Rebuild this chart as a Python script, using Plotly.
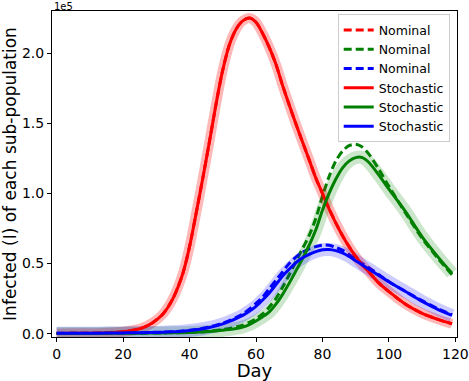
import plotly.graph_objects as go

# values, in units of 1e5 people
days = [0, 5, 10, 15, 20, 23, 26, 29, 32, 35, 38, 40, 42, 44, 46, 48, 50, 52, 54, 56, 58,
        60, 62, 64, 66, 68, 70, 73, 76, 78, 80, 82, 84, 86, 88, 90, 92, 94, 97, 100,
        105, 110, 115, 119]

red_nominal = [0.001, 0.002, 0.0035, 0.007, 0.014, 0.024, 0.043, 0.08, 0.14, 0.25, 0.43,
               0.62, 0.86, 1.11, 1.37, 1.64, 1.88, 2.06, 2.17, 2.23, 2.25, 2.22, 2.14, 2.04,
               1.92, 1.77, 1.63, 1.43, 1.24, 1.11, 1.00, 0.89, 0.79, 0.70, 0.62, 0.55, 0.49,
               0.44, 0.36, 0.30, 0.21, 0.145, 0.10, 0.07]
green_nominal = [0.001, 0.001, 0.0015, 0.002, 0.0025, 0.003, 0.0035, 0.004, 0.005, 0.006,
                 0.008, 0.009, 0.011, 0.014, 0.018, 0.023, 0.029, 0.037, 0.047, 0.06, 0.08,
                 0.105, 0.14, 0.19, 0.25, 0.33, 0.42, 0.56, 0.70, 0.82, 0.98, 1.12, 1.23,
                 1.30, 1.34, 1.35, 1.33, 1.28, 1.17, 1.05, 0.86, 0.68, 0.53, 0.42]
blue_nominal = [0.002, 0.0025, 0.003, 0.004, 0.005, 0.006, 0.007, 0.009, 0.011, 0.014,
                0.019, 0.024, 0.03, 0.038, 0.048, 0.06, 0.075, 0.093, 0.115, 0.14, 0.175,
                0.215, 0.26, 0.32, 0.38, 0.44, 0.50, 0.565, 0.605, 0.62, 0.63, 0.63, 0.615,
                0.595, 0.565, 0.53, 0.50, 0.47, 0.42, 0.37, 0.30, 0.235, 0.175, 0.135]

red_stochastic = [0.001, 0.002, 0.0035, 0.007, 0.014, 0.024, 0.043, 0.08, 0.14, 0.25, 0.43,
                  0.62, 0.86, 1.11, 1.37, 1.64, 1.88, 2.06, 2.17, 2.23, 2.25, 2.22, 2.14, 2.04,
                  1.92, 1.77, 1.63, 1.43, 1.24, 1.11, 1.00, 0.89, 0.79, 0.70, 0.62, 0.55, 0.49,
                  0.44, 0.36, 0.30, 0.21, 0.145, 0.10, 0.07]
green_stochastic = [0.001, 0.001, 0.0015, 0.002, 0.0025, 0.003, 0.0035, 0.004, 0.005, 0.006,
                    0.007, 0.008, 0.01, 0.012, 0.015, 0.019, 0.024, 0.03, 0.037, 0.047, 0.065,
                    0.09, 0.12, 0.155, 0.21, 0.28, 0.36, 0.49, 0.63, 0.74, 0.88, 1.00, 1.10,
                    1.18, 1.23, 1.255, 1.255, 1.22, 1.13, 1.03, 0.87, 0.69, 0.54, 0.43]
blue_stochastic = [0.002, 0.0025, 0.003, 0.004, 0.005, 0.006, 0.007, 0.008, 0.01, 0.013,
                   0.017, 0.022, 0.028, 0.035, 0.044, 0.055, 0.069, 0.087, 0.107, 0.13, 0.16,
                   0.195, 0.24, 0.29, 0.35, 0.41, 0.46, 0.525, 0.565, 0.585, 0.598, 0.60, 0.592,
                   0.575, 0.55, 0.52, 0.49, 0.46, 0.415, 0.37, 0.30, 0.23, 0.17, 0.13]

FONT = "DejaVu Sans"

series = [
    ("#ff0000", "rgba(255,0,0,0.28)", red_nominal, red_stochastic, 10),
    ("#008000", "rgba(0,128,0,0.2)", green_nominal, green_stochastic, 13),
    ("#0000ff", "rgba(0,0,255,0.2)", blue_nominal, blue_stochastic, 13),
]

fig = go.Figure()

for color, _, nominal, _, _ in series:
    fig.add_trace(go.Scatter(
        x=days, y=nominal, mode="lines", name="Nominal",
        line=dict(color=color, width=3, dash="8px,4px", shape="spline", smoothing=0.8),
    ))

# spread of the stochastic runs drawn as a wide translucent stroke
for color, band, nominal, stochastic, width in series:
    fig.add_trace(go.Scatter(
        x=days, y=stochastic, mode="lines", showlegend=False, hoverinfo="skip",
        line=dict(color=band, width=width, shape="spline", smoothing=0.8),
    ))

for color, _, _, stochastic, _ in series:
    fig.add_trace(go.Scatter(
        x=days, y=stochastic, mode="lines", name="Stochastic",
        line=dict(color=color, width=3, shape="spline", smoothing=0.8),
    ))

axis_common = dict(
    showline=True, linecolor="black", linewidth=1, mirror=True, automargin=False,
    ticks="outside", ticklen=4, tickcolor="black", showgrid=False, zeroline=False,
    tickfont=dict(family=FONT, size=14, color="black"),
)

fig.update_layout(
    width=469, height=381,
    margin=dict(l=52, r=12, t=11, b=44),
    paper_bgcolor="white", plot_bgcolor="white",
    font=dict(family=FONT, color="black"),
    xaxis=dict(
        range=[-1.4, 120.5], tickvals=[0, 20, 40, 60, 80, 100, 120],
        title=dict(text="Day", font=dict(size=18), standoff=8),
        **axis_common,
    ),
    yaxis=dict(
        range=[-0.024, 2.3], tickvals=[0, 0.5, 1.0, 1.5, 2.0], tickformat=".1f",
        title=dict(text="Infected (I) of each sub-population", font=dict(size=17), standoff=4),
        **axis_common,
    ),
    legend=dict(
        x=0.982, y=0.99, xanchor="right", yanchor="top",
        bgcolor="rgba(255,255,255,0.8)", bordercolor="#cccccc", borderwidth=1,
        font=dict(family=FONT, size=12.5), tracegroupgap=0,
    ),
    annotations=[dict(
        text="1e5", x=0, y=1, xref="paper", yref="paper", xanchor="left", yanchor="middle",
        showarrow=False, font=dict(family=FONT, size=10), yshift=5,
    )],
)

fig.write_html(
    "out.html",
    config={"displayModeBar": False},
    post_script="document.body.style.margin='0';",
)
